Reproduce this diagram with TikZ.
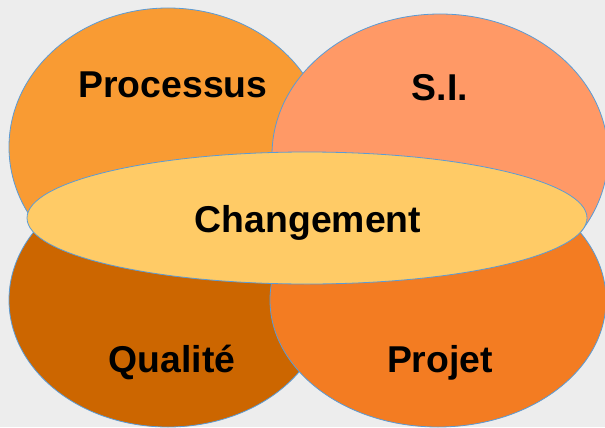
\documentclass[tikz,border=0pt]{standalone}
\usepackage{fontspec}
\setmainfont{Liberation Sans}
\definecolor{bg}{HTML}{EDEDED}
\definecolor{edge}{HTML}{5B9BD5}
\definecolor{cproc}{HTML}{F99B33}
\definecolor{csi}{HTML}{FF9966}
\definecolor{cqual}{HTML}{CC6600}
\definecolor{cproj}{HTML}{F37C22}
\definecolor{cchg}{HTML}{FFCB66}
\tikzset{
  blob/.style={draw=edge, line width=0.8bp},
  lbl/.style={anchor=base, font=\fontsize{37.5}{40}\selectfont\bfseries, text=black, inner sep=0pt}
}
\begin{document}
\begin{tikzpicture}[x=1bp,y=1bp]
\fill[bg] (0,0) rectangle (605,427);
\useasboundingbox (0,0) rectangle (605,427);
\begin{scope}
\clip (0,0) rectangle (605,427);
\filldraw[blob, fill=cproc] (168,280) ellipse [x radius=159, y radius=139];
\filldraw[blob, fill=csi] (440,272) ellipse [x radius=168, y radius=141];
\filldraw[blob, fill=cqual] (168,127) ellipse [x radius=159, y radius=127];
\filldraw[blob, fill=cproj] (438,127) ellipse [x radius=168, y radius=127];
\filldraw[blob, fill=cchg] (307,209) ellipse [x radius=280, y radius=66];
\end{scope}
\node[lbl] (proc) at (173,330) {Processus};
\node[lbl] (si) at (440,327) {S.I.};
\node[lbl] (chg) at (308,195) {Changement};
\node[lbl] (qual) at (172,55) {Qualité};
\node[lbl] (proj) at (440,55) {Projet};
\end{tikzpicture}
\end{document}
